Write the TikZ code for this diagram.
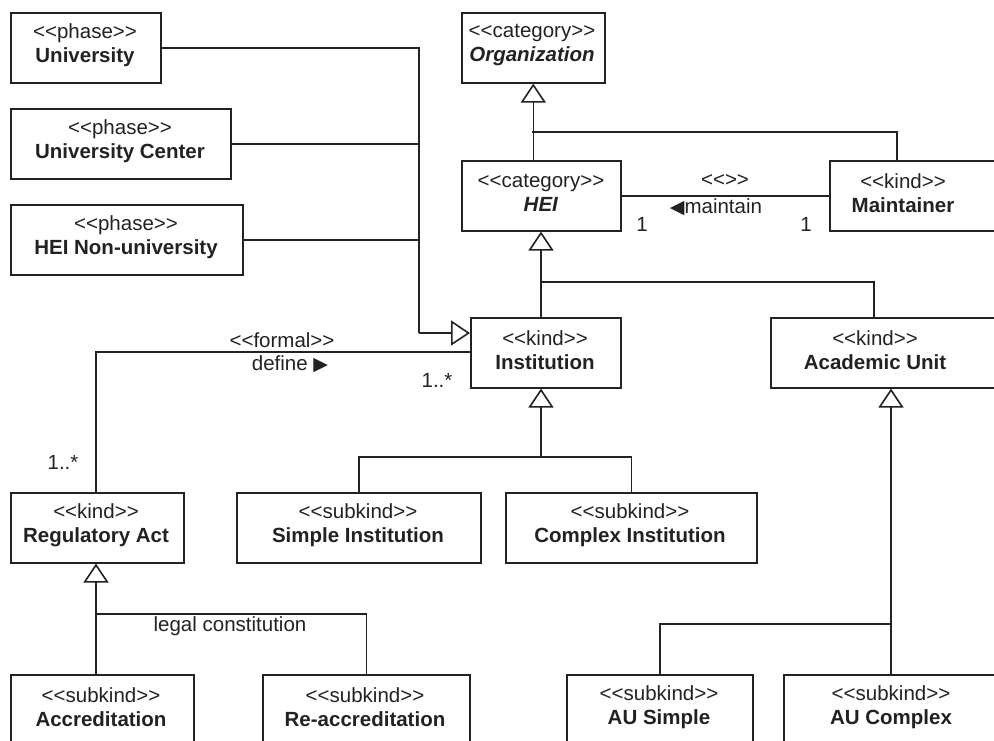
\documentclass[tikz,border=0pt]{standalone}
\usepackage{fontspec}
\setmainfont{Liberation Sans}
\newfontfamily\symfont{DejaVu Sans}
\usetikzlibrary{arrows.meta}
\newcommand\st[1]{<\kern0pt<#1>\kern0pt>}
\newcommand\umlbox[7]{%
  \node[box, minimum width={(#4-#2)*1pt}, anchor=north west] (#1) at (#2,#3) {};
  \node[txt] (#1t) at (#5,{#3+33}) {\st{#6}\\\textbf{#7}};
}
\newcommand\tri[1]{{\symfont\fontsize{19}{19}\selectfont #1}}
\begin{document}
\begin{tikzpicture}[x=1pt,y=-1pt,
  box/.style={draw=linec, line width=1.6pt, rectangle, inner sep=0pt, minimum height=70pt},
  txt/.style={align=center, inner sep=0pt, text=textc, font=\fontsize{20.5}{24}\selectfont},
  lab/.style={inner sep=0pt, text=textc, font=\fontsize{20.5}{24}\selectfont},
  conn/.style={draw=linec, line width=1.6pt},
  gen/.style={conn, -{Triangle[open, length=19pt, width=25pt, line width=1.6pt]}}]
\definecolor{linec}{HTML}{222222}
\definecolor{textc}{HTML}{222222}
\useasboundingbox (0,0) rectangle (994,740);
% boxes
\umlbox{uni}{10}{12}{160}{85}{phase}{University}
\umlbox{uc}{10}{108}{230}{120}{phase}{University Center}
\umlbox{hnu}{10}{204}{242}{126}{phase}{HEI Non-university}
\umlbox{org}{461}{12}{604}{532}{category}{\textit{Organization}}
\umlbox{hei}{461}{160}{620}{541}{category}{\textit{HEI}}
\umlbox{maint}{829}{160}{1020}{903}{kind}{Maintainer}
\umlbox{inst}{470}{317}{620}{545}{kind}{Institution}
\umlbox{au}{770}{317}{1020}{875}{kind}{Academic Unit}
\umlbox{reg}{10}{492}{183}{96}{kind}{Regulatory Act}
\umlbox{si}{236}{492}{480}{358}{subkind}{Simple Institution}
\umlbox{ci}{505}{492}{756}{630}{subkind}{Complex Institution}
\umlbox{acc}{10}{674}{193}{101}{subkind}{Accreditation}
\umlbox{racc}{262}{674}{469}{365}{subkind}{Re-accreditation}
\umlbox{aus}{566}{674}{752}{659}{subkind}{AU Simple}
\umlbox{auc}{783}{674}{1020}{891}{subkind}{AU Complex}
% junction coordinates
\coordinate (jp) at (419,333);
\coordinate (jo) at (532,132);
\coordinate (jh) at (541,282);
\coordinate (ji) at (541,457);
\coordinate (jr) at (96,614);
\coordinate (ja) at (891,624);
\coordinate (jf) at (96,352);
% phases -> Institution
\draw[conn] (uni.east) -| (jp);
\draw[conn] (uc.east) -- (uc.east -| jp);
\draw[conn] (hnu.east) -- (hnu.east -| jp);
\draw[gen] (jp) -- (jp -| inst.west);
% Organization
\draw[gen] (hei.north -| org.south) -- (org.south);
\draw[conn] (maint.north -| 897,0) |- (jo);
% HEI
\draw[gen] (inst.north -| jh) -- (hei.south -| jh);
\draw[conn] (au.north -| 874,0) |- (jh);
% association maintain
\draw[conn] (hei.east) -- (maint.west);
\node[lab] (a1) at (725,181) {\st{}};
\node[lab] (a2) at (716,207) {\tri{◀}maintain};
\node[lab] (m1) at (642,224) {1};
\node[lab] (m2) at (806,224) {1};
% formal define
\draw[conn] (inst.west |- jf) -- (jf) -- (reg.north -| jf);
\node[lab] (f1) at (282,340) {\st{formal}};
\node[lab] (f2) at (290,364) {define \tri{▶}};
\node[lab] (f3) at (437,380) {1..*};
\node[lab] (f4) at (63,462) {1..*};
% Institution subkinds
\draw[gen] (ji) -- (inst.south -| ji);
\draw[conn] (si.north) |- (ji) -| (ci.north);
% Regulatory Act subkinds
\draw[gen] (acc.north -| jr) -- (reg.south -| jr);
\draw[conn] (jr) -| (racc.north);
\node[lab] (lc) at (230,626) {legal constitution};
% Academic Unit subkinds
\draw[gen] (auc.north -| ja) -- (au.south -| ja);
\draw[conn] (ja) -| (aus.north);
\end{tikzpicture}
\end{document}
